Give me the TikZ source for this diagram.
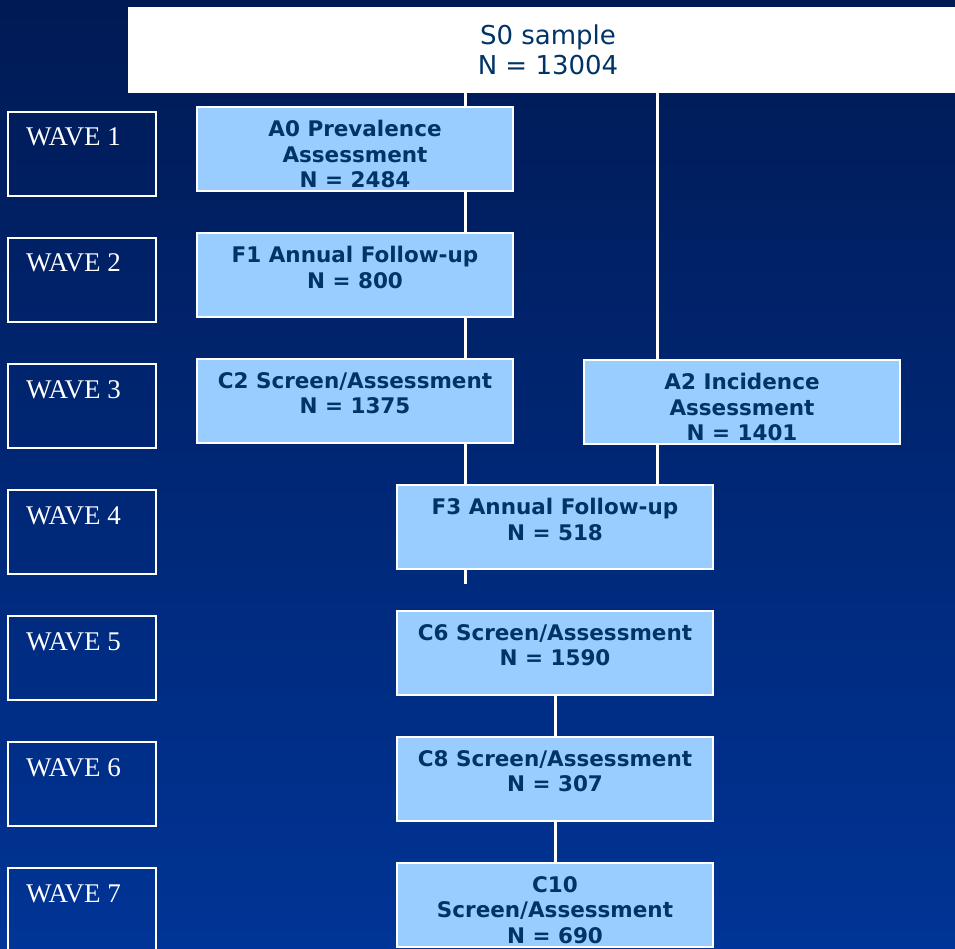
\documentclass[tikz,border=0pt]{standalone}
\usepackage{fontspec}
\usepackage{xcolor}
\usepackage{tikz}
\usetikzlibrary{positioning}
\newfontfamily\verdanafont{DejaVu Sans}
\newfontfamily\timesfont{Liberation Serif}
\definecolor{bgtop}{RGB}{0,26,84}
\definecolor{bgbottom}{RGB}{0,52,150}
\definecolor{boxblue}{RGB}{153,204,255}
\definecolor{textblue}{RGB}{0,51,102}
\tikzset{
    topbox/.style={fill=white, minimum width=840pt, minimum height=86pt, inner sep=0pt,
        align=center, text=textblue, font=\verdanafont\fontsize{26}{30}\selectfont},
    wavebox/.style={draw=white, line width=2pt, minimum width=148pt, minimum height=84pt, inner sep=0pt},
    wavetext/.style={anchor=base west, inner sep=0pt, text=white, font=\timesfont\fontsize{27}{30}\selectfont},
    bluebox/.style={draw=white, line width=1.5pt, fill=boxblue, minimum width=316pt, minimum height=84pt, inner sep=0pt},
    boxtext/.style={anchor=north, inner sep=0pt, align=center, text=textblue,
        font=\verdanafont\bfseries\fontsize{21.5}{25.5}\selectfont},
    link/.style={draw=white, line width=3pt}
}
\begin{document}
\begin{tikzpicture}[x=1pt,y=-1pt]
    \fill[top color=bgtop,bottom color=bgbottom] (0,0) rectangle (955,949);
    \useasboundingbox (0,0) rectangle (955,949);
    \clip (0,0) rectangle (955,949);

    % top sample box
    \node[topbox] (s0) at (548,50) {S0 sample\\N = 13004};

    % waves down the left side
    \foreach \i in {1,...,7} {
        \node[wavebox] (wave\i) at (82,{154+126*(\i-1)}) {};
        \node[wavetext] (wave\i text) at ([xshift=19pt,yshift=-35pt]wave\i.north west) {WAVE \i};
    }

    % assessment boxes
    \node[bluebox] (a0) at (355,149) {};
    \node[bluebox] (f1) at (355,275) {};
    \node[bluebox] (c2) at (355,401) {};
    \node[bluebox] (a2) at (742,402) {};
    \node[bluebox] (f3) at (555,527) {};
    \node[bluebox] (c6) at (555,653) {};
    \node[bluebox] (c8) at (555,779) {};
    \node[bluebox] (c10) at (555,905) {};

    \node[boxtext,below=14pt of a0.north] (a0 text) {A0 Prevalence\\Assessment\\N = 2484};
    \node[boxtext,below=14pt of f1.north] (f1 text) {F1 Annual Follow-up\\N = 800};
    \node[boxtext,below=14pt of c2.north] (c2 text) {C2 Screen/Assessment\\N = 1375};
    \node[boxtext,below=14pt of a2.north] (a2 text) {A2 Incidence\\Assessment\\N = 1401};
    \node[boxtext,below=14pt of f3.north] (f3 text) {F3 Annual Follow-up\\N = 518};
    \node[boxtext,below=14pt of c6.north] (c6 text) {C6 Screen/Assessment\\N = 1590};
    \node[boxtext,below=14pt of c8.north] (c8 text) {C8 Screen/Assessment\\N = 307};
    \node[boxtext,below=14pt of c10.north] (c10 text) {C10\\Screen/Assessment\\N = 690};

    % connectors
    \coordinate (lefttrunk) at (465,0);
    \coordinate (righttrunk) at (657.5,0);
    \coordinate (stubend) at (465,584);
    \draw[link] (s0.south -| lefttrunk) -- (a0.north -| lefttrunk);
    \draw[link] (a0.south -| lefttrunk) -- (f1.north -| lefttrunk);
    \draw[link] (f1.south -| lefttrunk) -- (c2.north -| lefttrunk);
    \draw[link] (c2.south -| lefttrunk) -- (f3.north -| lefttrunk);
    \draw[link] (f3.south -| lefttrunk) -- (stubend);
    \draw[link] (s0.south -| righttrunk) -- (a2.north -| righttrunk);
    \draw[link] (a2.south -| righttrunk) -- (f3.north -| righttrunk);
    \draw[link] (c6.south) -- (c8.north);
    \draw[link] (c8.south) -- (c10.north);
\end{tikzpicture}
\end{document}
